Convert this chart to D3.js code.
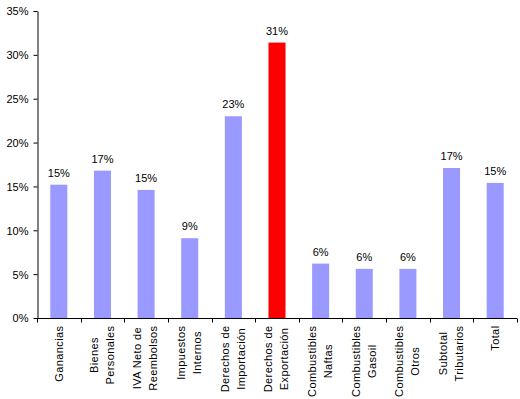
<!DOCTYPE html>
<html>
<head>
<meta charset="utf-8">
<script src="https://cdnjs.cloudflare.com/ajax/libs/d3/7.8.5/d3.min.js"></script>
<style>
  body { margin: 0; background: #fff; }
  svg text { font-family: "Liberation Sans", Arial, sans-serif; font-size: 11px; fill: #000; }
  svg text.cat { letter-spacing: 0.4px; }
</style>
</head>
<body>
<div id="chart"></div>
<script>
// categories (line breaks as in the original)
var categories = [
    ["Ganancias"],
    ["Bienes", "Personales"],
    ["IVA Neto de", "Reembolsos"],
    ["Impuestos", "Internos"],
    ["Derechos de", "Importación"],
    ["Derechos de", "Exportación"],
    ["Combustibles", "Naftas"],
    ["Combustibles", "Gasoil"],
    ["Combustibles", "Otros"],
    ["Subtotal", "Tributarios"],
    ["Total"]
];
var values = [15.2, 16.8, 14.6, 9.1, 23.0, 31.4, 6.2, 5.6, 5.6, 17.1, 15.4];
var highlighted = [false, false, false, false, false, true, false, false, false, false, false];
var yTicks = [0, 5, 10, 15, 20, 25, 30, 35];

var color_bar = "#9999FF"
var color_highlight = "#FF0000"
var width = 520, height = 399;
var margin = {left: 37, right: 3, top: 11, bottom: 81};

var svg = d3.select("#chart")
    .append("svg")
    .attr("width", width)
    .attr("height", height)

var x = d3.scaleBand()
    .domain(d3.range(categories.length))
    .range([margin.left, width - margin.right])
    .paddingInner(0.61)
    .paddingOuter(0.305);

var y = d3.scaleLinear()
    .domain([0, 35])
    .range([height - margin.bottom, margin.top]);

// y axis
let yAxis = svg.append("g")
    .attr("transform", "translate(" + (margin.left + 0.5) + ",0)")
    .call(d3.axisLeft(y).tickValues(yTicks).tickSize(4).tickSizeOuter(0).tickFormat(d => d + "%"))
yAxis.select(".domain").attr("stroke", "#000")
yAxis.selectAll(".tick line").attr("stroke", "#000")
yAxis.selectAll(".tick text").attr("x", -9).attr("dy", "0.35em").style("font-size", "11px").style("font-family", null)

// bars
let step = x.step();
svg.selectAll("rect.bar")
    .data(values)
    .enter()
    .append("rect")
    .classed("bar", true)
    .attr("x", (d, i) => x(i))
    .attr("width", x.bandwidth())
    .attr("y", d => y(d))
    .attr("height", d => y(0) - y(d))
    .attr("fill", (d, i) => highlighted[i] ? color_highlight : color_bar)

// value labels
svg.selectAll("text.val")
    .data(values)
    .enter()
    .append("text")
    .classed("val", true)
    .attr("x", (d, i) => x(i) + x.bandwidth() / 2)
    .attr("y", d => y(d) - 8)
    .attr("text-anchor", "middle")
    .text(d => Math.round(d) + "%")

// x axis line with ticks between categories
let x0 = margin.left, y0 = y(0) + 0.5;
svg.append("line")
    .attr("x1", x0).attr("x2", width - margin.right)
    .attr("y1", y0).attr("y2", y0)
    .attr("stroke", "#000")
svg.selectAll("line.xtick")
    .data(d3.range(categories.length + 1))
    .enter()
    .append("line")
    .classed("xtick", true)
    .attr("x1", i => Math.round(x0 + i * step) + 0.5)
    .attr("x2", i => Math.round(x0 + i * step) + 0.5)
    .attr("y1", y0).attr("y2", y0 + 4)
    .attr("stroke", "#000")

// rotated category labels, lines centred inside a block that starts under the axis
let labelTop = y0 + 7;
categories.forEach((lines, i) => {
    let cx = x(i) + x.bandwidth() / 2;
    let g = svg.append("g");
    let texts = lines.map((t, j) => g.append("text")
        .classed("cat", true)
        .attr("text-anchor", "middle")
        .attr("dy", "0.35em")
        .text(t));
    let maxLen = d3.max(texts, t => t.node().getComputedTextLength());
    texts.forEach((t, j) => {
        let off = lines.length == 1 ? 0 : (j == 0 ? -8.5 : 7.5);
        t.attr("transform", "translate(" + (cx + off) + "," + (labelTop + maxLen / 2) + ") rotate(-90)")
    })
})
</script>
</body>
</html>
